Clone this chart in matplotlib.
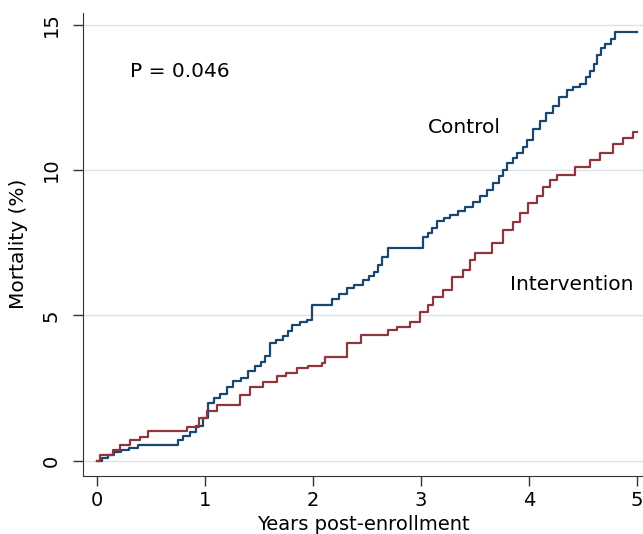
import matplotlib
matplotlib.use("Agg")
import matplotlib.pyplot as plt

plt.rcParams['font.family'] = ['DejaVu Sans']

# Kaplan-Meier style cumulative mortality (%)
control_x = [0, 0.05, 0.10, 0.16, 0.22, 0.30, 0.38, 0.75, 0.80, 0.86,
             0.92, 0.98, 1.03, 1.08, 1.14, 1.20, 1.26, 1.33, 1.40, 1.46,
             1.52, 1.56, 1.60, 1.66, 1.72, 1.77, 1.81, 1.88, 1.94, 1.99,
             2.18, 2.24, 2.31, 2.38, 2.46, 2.52, 2.56, 2.60, 2.64, 2.69,
             3.02, 3.06, 3.10, 3.15, 3.21, 3.27, 3.34, 3.41, 3.48, 3.55,
             3.61, 3.67, 3.72, 3.76, 3.80, 3.85, 3.89, 3.94, 3.98, 4.04,
             4.10, 4.16, 4.22, 4.28, 4.35, 4.41, 4.47, 4.53, 4.56, 4.60,
             4.63, 4.67, 4.70, 4.76, 4.80, 5.0]
control_y = [0, 0.1, 0.2, 0.3, 0.38, 0.45, 0.55, 0.7, 0.85, 1.0,
             1.2, 1.48, 2.0, 2.15, 2.3, 2.55, 2.75, 2.85, 3.1, 3.25,
             3.4, 3.6, 4.06, 4.15, 4.3, 4.45, 4.68, 4.78, 4.85, 5.37,
             5.55, 5.75, 5.95, 6.05, 6.2, 6.35, 6.5, 6.75, 7.0, 7.33,
             7.7, 7.85, 8.0, 8.25, 8.35, 8.46, 8.6, 8.74, 8.9, 9.1,
             9.3, 9.56, 9.8, 10.0, 10.25, 10.4, 10.6, 10.8, 11.05, 11.4,
             11.7, 11.95, 12.2, 12.5, 12.76, 12.85, 12.95, 13.2, 13.4, 13.65,
             13.96, 14.2, 14.35, 14.5, 14.75, 14.75]

interv_x = [0, 0.03, 0.15, 0.21, 0.31, 0.40, 0.47, 0.83, 0.94, 1.02,
            1.11, 1.32, 1.42, 1.54, 1.67, 1.75, 1.85, 1.95, 2.08, 2.11,
            2.31, 2.44, 2.69, 2.78, 2.90, 2.99, 3.06, 3.11, 3.20, 3.29,
            3.39, 3.45, 3.50, 3.66, 3.76, 3.85, 3.92, 3.99, 4.07, 4.13,
            4.19, 4.26, 4.43, 4.56, 4.66, 4.78, 4.87, 4.96, 5.0]
interv_y = [0, 0.2, 0.38, 0.55, 0.7, 0.83, 1.03, 1.17, 1.48, 1.7,
            1.93, 2.27, 2.55, 2.72, 2.9, 3.0, 3.2, 3.25, 3.37, 3.58,
            4.06, 4.33, 4.5, 4.6, 4.78, 5.1, 5.37, 5.64, 5.88, 6.33,
            6.57, 6.9, 7.15, 7.5, 7.95, 8.2, 8.53, 8.87, 9.1, 9.43,
            9.67, 9.83, 10.1, 10.35, 10.6, 10.9, 11.1, 11.3, 11.3]

x_ticks = [0, 1, 2, 3, 4, 5]
y_ticks = [0, 5, 10, 15]

fig = plt.figure(figsize=(6.43, 5.34), dpi=100)
ax = fig.add_axes([0.129, 0.109, 0.871, 0.867])

for yt in y_ticks:
    ax.axhline(yt, color="#d8e4ea", lw=1.0, zorder=0)

ax.plot(control_x, control_y, drawstyle="steps-post", color="#1a476f", lw=1.6)
ax.plot(interv_x, interv_y, drawstyle="steps-post", color="#90353b", lw=1.6)

ax.text(0.31, 13.38, "P = 0.046", fontsize=14.5, va="center")
ax.text(3.06, 11.45, "Control", fontsize=14.5, va="center")
ax.text(3.82, 6.05, "Intervention", fontsize=14.5, va="center")

ax.set_xlim(-0.13, 5.055)
ax.set_ylim(-0.52, 15.41)
ax.set_xticks(x_ticks)
ax.set_yticks(y_ticks)
ax.tick_params(axis="both", direction="out", length=7, width=1.0,
               labelsize=14, color="#333333")
ax.tick_params(axis="x", pad=4)
ax.tick_params(axis="y", pad=9)
for lab in ax.get_yticklabels():
    lab.set_rotation(90)
    lab.set_va("center")

ax.spines["top"].set_visible(False)
ax.spines["right"].set_visible(False)
ax.spines["left"].set_color("#333333")
ax.spines["bottom"].set_color("#333333")

ax.set_xlabel("Years post-enrollment", fontsize=14)
ax.xaxis.set_label_coords(0.5, -0.085)
ax.set_ylabel("Mortality (%)", fontsize=14.5)
ax.yaxis.set_label_coords(-0.098, 0.50)

fig.savefig("out.png", dpi=100)
